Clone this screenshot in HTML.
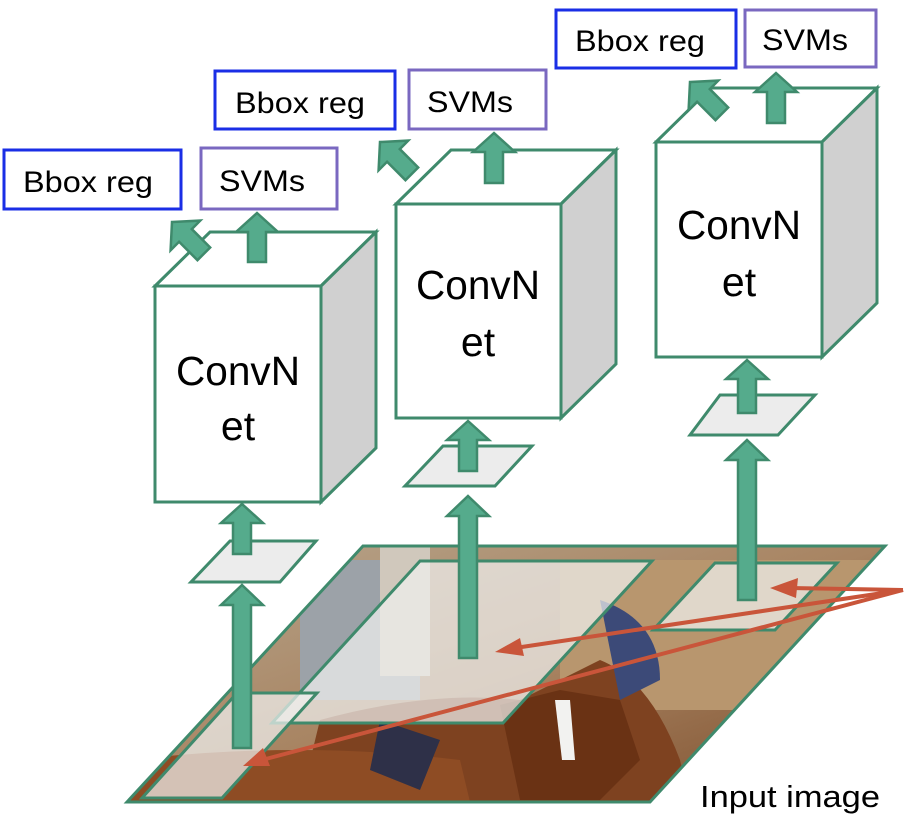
<!DOCTYPE html>
<html><head><meta charset="utf-8"><style>
html,body{margin:0;padding:0;background:#fff;}
svg{display:block;}
text{font-family:"Liberation Sans",sans-serif;fill:#000;}
</style></head><body>
<svg width="905" height="823" viewBox="0 0 905 823" xmlns="http://www.w3.org/2000/svg">
<defs>
<linearGradient id="bg" x1="0" y1="0" x2="1" y2="1">
<stop offset="0" stop-color="#b8a890"/><stop offset="0.5" stop-color="#a88462"/><stop offset="1" stop-color="#7a4a28"/>
</linearGradient>
<clipPath id="img"><polygon points="363,546 885,546 650,802 127,802"/></clipPath>
</defs>
<g clip-path="url(#img)">
<rect x="120" y="540" width="780" height="270" fill="url(#bg)"/>
<rect x="300" y="560" width="120" height="140" fill="#9ca2a8"/>
<rect x="380" y="546" width="50" height="130" fill="#d0c8bc"/>
<rect x="560" y="560" width="330" height="150" fill="#b8966e"/>
<path d="M320,720 Q430,690 520,700 L600,660 Q650,680 680,760 L690,802 L300,802 Z" fill="#7e4220"/>
<path d="M130,760 Q300,740 460,760 L470,802 L127,802 Z" fill="#8e4c24"/>
<path d="M500,705 L560,690 L620,700 L640,760 L600,800 L520,800 Z" fill="#6a3214"/>
<path d="M555,700 L570,700 L575,760 L562,760 Z" fill="#f2f2f0"/>
<path d="M600,600 Q660,620 660,680 L620,700 Z" fill="#3c4a78"/>
<path d="M380,720 L440,740 L420,790 L370,770 Z" fill="#2e3048"/>
</g>
<polygon points="363,546 885,546 650,802 127,802" fill="none" stroke="#3f8a6c" stroke-width="3"/>
<polygon points="420,561 652,561 503,723 272,723" fill="#f0f0ee" fill-opacity="0.72" stroke="#3f8a6c" stroke-width="3"/>
<polygon points="715,563 837,563 775,630 653,630" fill="#f0f0ee" fill-opacity="0.72" stroke="#3f8a6c" stroke-width="3"/>
<polygon points="237,693 317,693 222,798 142,798" fill="#f0f0ee" fill-opacity="0.72" stroke="#3f8a6c" stroke-width="3"/>
<polygon points="230,541 316,541 280,582 191,582" fill="#ececec" stroke="#3f8a6c" stroke-width="3"/>
<polygon points="443,446 532,446 495,486 405,486" fill="#ececec" stroke="#3f8a6c" stroke-width="3"/>
<polygon points="720,395 815,395 778,435 690,435" fill="#ececec" stroke="#3f8a6c" stroke-width="3"/>
<g stroke="#3f8a6c" stroke-width="3" stroke-linejoin="miter">
<polygon points="155,286 210,232 376,232 321,286" fill="#fff"/>
<polygon points="321,286 376,232 376,448 321,502" fill="#d0d0d0"/>
<rect x="155" y="286" width="166" height="216" fill="#fff"/>
<polygon points="396,204 451,150 616,150 561,204" fill="#fff"/>
<polygon points="561,204 616,150 616,364 561,418" fill="#d0d0d0"/>
<rect x="396" y="204" width="165" height="214" fill="#fff"/>
<polygon points="656,142 711,88 877,88 822,142" fill="#fff"/>
<polygon points="822,142 877,88 877,303 822,357" fill="#d0d0d0"/>
<rect x="656" y="142" width="166" height="215" fill="#fff"/>
</g>
<g font-size="41" text-anchor="middle">
<text x="238" y="385" textLength="124" lengthAdjust="spacingAndGlyphs">ConvN</text><text x="238" y="440">et</text>
<text x="478" y="299" textLength="124" lengthAdjust="spacingAndGlyphs">ConvN</text><text x="478" y="356">et</text>
<text x="739" y="239" textLength="124" lengthAdjust="spacingAndGlyphs">ConvN</text><text x="739" y="296">et</text>
</g>
<g fill="#fff" stroke-width="3">
<rect x="4" y="150" width="177" height="59" stroke="#1a2ee6"/>
<rect x="201" y="148" width="136" height="61" stroke="#7a68c0"/>
<rect x="215" y="71" width="180" height="58" stroke="#1a2ee6"/>
<rect x="409" y="70" width="137" height="59" stroke="#7a68c0"/>
<rect x="556" y="10" width="180" height="58" stroke="#1a2ee6"/>
<rect x="745" y="10" width="131" height="57" stroke="#7a68c0"/>
</g>
<g font-size="30" text-anchor="middle">
<text x="88" y="192" textLength="130" lengthAdjust="spacingAndGlyphs">Bbox reg</text>
<text x="262" y="191" textLength="86" lengthAdjust="spacingAndGlyphs">SVMs</text>
<text x="300" y="113" textLength="130" lengthAdjust="spacingAndGlyphs">Bbox reg</text>
<text x="470" y="112" textLength="86" lengthAdjust="spacingAndGlyphs">SVMs</text>
<text x="640" y="51" textLength="130" lengthAdjust="spacingAndGlyphs">Bbox reg</text>
<text x="805" y="50" textLength="86" lengthAdjust="spacingAndGlyphs">SVMs</text>
</g>
<text x="790" y="807" font-size="31" text-anchor="middle" textLength="180" lengthAdjust="spacingAndGlyphs">Input image</text>
<g fill="#55ab8c" stroke="#3f8a6c" stroke-width="2.5">
<path transform="translate(257,213)" d="M0,0 L21,19 L9,19 L9,49 L-9,49 L-9,19 L-21,19 Z"/>
<path transform="translate(172,222) rotate(-45)" d="M0,0 L21,19 L9,19 L9,45 L-9,45 L-9,19 L-21,19 Z"/>
<path transform="translate(494,133)" d="M0,0 L21,19 L9,19 L9,50 L-9,50 L-9,19 L-21,19 Z"/>
<path transform="translate(380,142) rotate(-45)" d="M0,0 L21,19 L9,19 L9,45 L-9,45 L-9,19 L-21,19 Z"/>
<path transform="translate(776,73)" d="M0,0 L21,19 L9,19 L9,50 L-9,50 L-9,19 L-21,19 Z"/>
<path transform="translate(690,82) rotate(-45)" d="M0,0 L21,19 L9,19 L9,45 L-9,45 L-9,19 L-21,19 Z"/>
<path transform="translate(242,504)" d="M0,0 L21,19 L9,19 L9,50 L-9,50 L-9,19 L-21,19 Z"/>
<path transform="translate(242,585)" d="M0,0 L21,20 L9,20 L9,163 L-9,163 L-9,20 L-21,20 Z"/>
<path transform="translate(468,421)" d="M0,0 L21,19 L9,19 L9,50 L-9,50 L-9,19 L-21,19 Z"/>
<path transform="translate(468,496)" d="M0,0 L21,20 L9,20 L9,162 L-9,162 L-9,20 L-21,20 Z"/>
<path transform="translate(747,360)" d="M0,0 L21,19 L9,19 L9,53 L-9,53 L-9,19 L-21,19 Z"/>
<path transform="translate(747,440)" d="M0,0 L21,20 L9,20 L9,160 L-9,160 L-9,20 L-21,20 Z"/>
</g>
<g stroke="#c9553a" stroke-width="4" fill="none">
<line x1="903" y1="590" x2="790" y2="588"/>
<line x1="903" y1="590" x2="515" y2="648"/>
<line x1="903" y1="590" x2="262" y2="760"/>
</g>
<g fill="#c9553a">
<polygon points="770,588 798,578 796,598"/>
<polygon points="495,652 520,638 524,656"/>
<polygon points="243,766 263,748 270,766"/>
</g>
</svg>
</body></html>
